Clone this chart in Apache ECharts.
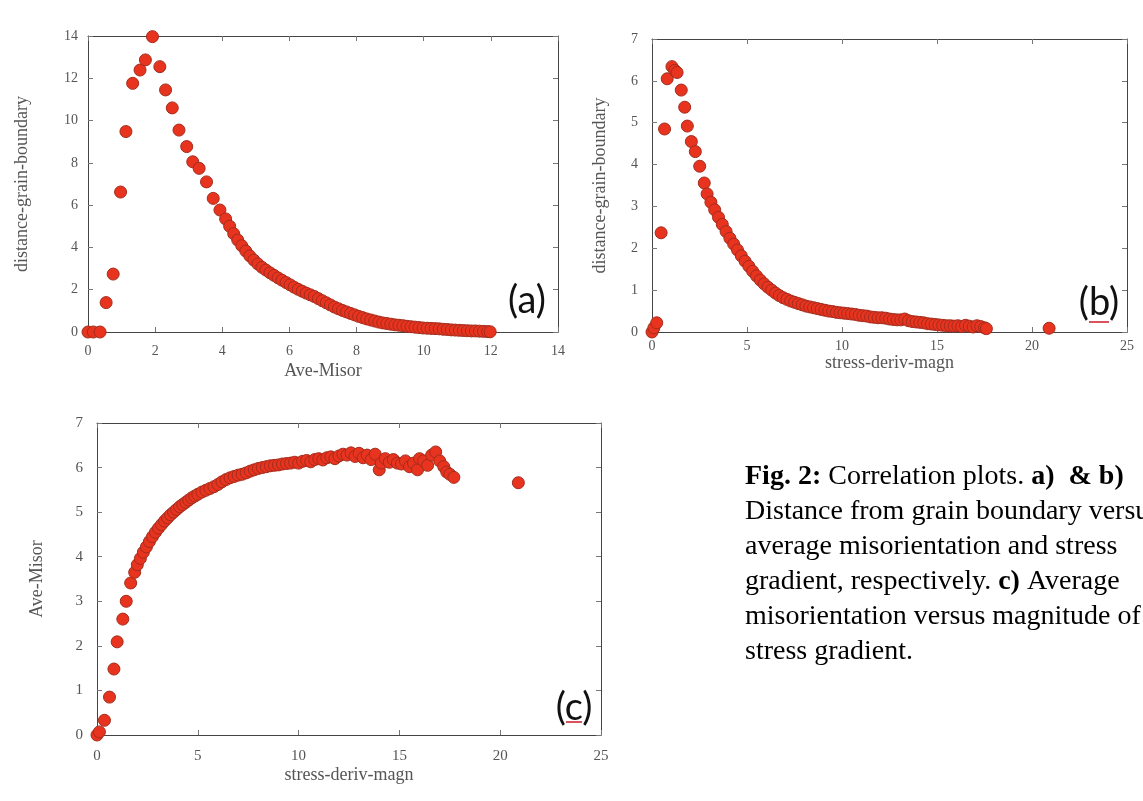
<!DOCTYPE html>
<html>
<head>
<meta charset="utf-8">
<script src="https://cdn.jsdelivr.net/npm/echarts@6/dist/echarts.min.js"></script>
<style>
  html, body { margin: 0; padding: 0; background: #fff; }
  #chart { width: 1143px; height: 801px; }
</style>
</head>
<body>
<div id="chart"></div>
<script>
// (a) distance-grain-boundary vs Ave-Misor
const misorA = [0, 0.16, 0.36, 0.54, 0.75, 0.97, 1.13, 1.33, 1.55, 1.71, 1.92, 2.14, 2.31, 2.51, 2.71, 2.94, 3.12, 3.31, 3.53, 3.73, 3.93, 4.10,
  4.22, 4.34, 4.46, 4.58, 4.70, 4.82, 4.94, 5.06, 5.18, 5.30, 5.42, 5.54, 5.66, 5.78, 5.90, 6.02, 6.14, 6.26, 6.38, 6.50, 6.62, 6.74, 6.86, 6.98,
  7.10, 7.22, 7.34, 7.46, 7.58, 7.70, 7.82, 7.94, 8.06, 8.18, 8.30, 8.42, 8.54, 8.66, 8.78, 8.90, 9.02, 9.14, 9.26, 9.38, 9.50, 9.62, 9.74, 9.86,
  9.98, 10.10, 10.22, 10.34, 10.46, 10.58, 10.70, 10.82, 10.94, 11.06, 11.18, 11.30, 11.42, 11.54, 11.66, 11.78, 11.90, 11.98];
const distA = [0, 0, 0, 1.39, 2.74, 6.62, 9.48, 11.76, 12.39, 12.87, 13.97, 12.55, 11.45, 10.6, 9.55, 8.77, 8.05, 7.74, 7.1, 6.32, 5.77, 5.35,
  5.0, 4.65, 4.35, 4.08, 3.83, 3.60, 3.40, 3.22, 3.06, 2.93, 2.80, 2.68, 2.56, 2.45, 2.34, 2.23, 2.12, 2.02, 1.93, 1.84, 1.76, 1.68, 1.58, 1.48,
  1.38, 1.28, 1.18, 1.10, 1.02, 0.95, 0.88, 0.81, 0.74, 0.68, 0.62, 0.57, 0.52, 0.47, 0.43, 0.40, 0.37, 0.34, 0.32, 0.30, 0.27, 0.25, 0.23, 0.21,
  0.19, 0.18, 0.17, 0.16, 0.15, 0.13, 0.12, 0.10, 0.09, 0.08, 0.07, 0.06, 0.05, 0.05, 0.04, 0.03, 0.02, 0.01];

// (b) distance-grain-boundary vs stress-deriv-magn
const derivB = [0, 0.1, 0.25, 0.48, 0.66, 0.8, 1.05, 1.2, 1.32, 1.54, 1.72, 1.86, 2.07, 2.28, 2.51, 2.75,
  2.9, 3.1, 3.3, 3.5, 3.7, 3.9, 4.1, 4.3, 4.5, 4.7, 4.9, 5.1, 5.3, 5.5, 5.7, 5.9, 6.1, 6.3, 6.5, 6.7, 6.9, 7.1, 7.3, 7.5, 7.7, 7.9,
  8.1, 8.3, 8.5, 8.7, 8.9, 9.1, 9.3, 9.5, 9.7, 9.9, 10.1, 10.3, 10.5, 10.7, 10.9, 11.1, 11.3, 11.5, 11.7, 11.9, 12.1, 12.3, 12.5, 12.7,
  12.9, 13.1, 13.3, 13.5, 13.7, 13.9, 14.1, 14.3, 14.5, 14.7, 14.9, 15.1, 15.3, 15.5, 15.7, 15.9, 16.1, 16.3, 16.5, 16.7, 16.9, 17.1,
  17.3, 17.5, 17.6, 20.9];
const distB = [0, 0.1, 0.22, 2.37, 4.85, 6.05, 6.34, 6.25, 6.2, 5.78, 5.37, 4.92, 4.55, 4.31, 3.96, 3.56,
  3.30, 3.10, 2.92, 2.74, 2.57, 2.40, 2.24, 2.10, 1.96, 1.82, 1.69, 1.57, 1.45, 1.34, 1.24, 1.15, 1.07, 1.00, 0.93, 0.87, 0.82, 0.78, 0.74, 0.71, 0.68, 0.65,
  0.62, 0.60, 0.58, 0.56, 0.54, 0.52, 0.50, 0.49, 0.47, 0.46, 0.45, 0.44, 0.43, 0.42, 0.40, 0.39, 0.38, 0.36, 0.35, 0.34, 0.34, 0.33, 0.31, 0.30,
  0.29, 0.29, 0.31, 0.27, 0.25, 0.24, 0.23, 0.22, 0.20, 0.19, 0.18, 0.17, 0.16, 0.15, 0.15, 0.14, 0.15, 0.13, 0.16, 0.14, 0.12, 0.15,
  0.13, 0.10, 0.08, 0.09];

// (c) Ave-Misor vs stress-deriv-magn
const derivC = [0, 0.12, 0.37, 0.62, 0.84, 1.0, 1.28, 1.45, 1.67, 1.87, 2.0, 2.15, 2.3, 2.45, 2.6, 2.75, 2.9, 3.05, 3.2, 3.35, 3.5,
  3.65, 3.8, 3.95, 4.1, 4.25, 4.4, 4.55, 4.7, 4.85, 5.0, 5.2, 5.4, 5.6, 5.8, 6.0, 6.2, 6.4, 6.6, 6.8, 7.0, 7.2, 7.4, 7.6, 7.8,
  8.0, 8.2, 8.4, 8.6, 8.8, 9.0, 9.2, 9.4, 9.6, 9.8, 10.0, 10.2, 10.4, 10.6, 10.8, 11.0, 11.2, 11.4, 11.6, 11.8, 12.0, 12.2, 12.4,
  12.6, 12.8, 13.0, 13.2, 13.4, 13.6, 13.8, 14.0, 14.1, 14.3, 14.5, 14.7, 14.9, 15.1, 15.3, 15.5, 15.7, 15.9, 16.0, 16.2, 16.4,
  16.6, 16.8, 17.0, 17.2, 17.35, 17.5, 17.7, 20.9];
const misorC = [0, 0.07, 0.33, 0.85, 1.48, 2.09, 2.6, 3.0, 3.41, 3.65, 3.82, 3.96, 4.10, 4.22, 4.34, 4.45, 4.55, 4.64, 4.72, 4.80, 4.87,
  4.94, 5.00, 5.06, 5.12, 5.17, 5.22, 5.27, 5.32, 5.36, 5.40, 5.45, 5.49, 5.53, 5.57, 5.62, 5.68, 5.73, 5.77, 5.80, 5.83, 5.85, 5.88, 5.92, 5.95,
  5.98, 6.00, 6.02, 6.04, 6.05, 6.06, 6.08, 6.09, 6.10, 6.12, 6.10, 6.14, 6.16, 6.13, 6.18, 6.20, 6.17, 6.22, 6.24, 6.20, 6.26, 6.30, 6.28,
  6.33, 6.25, 6.32, 6.22, 6.28, 6.18, 6.30, 5.95, 6.10, 6.20, 6.12, 6.18, 6.10, 6.08, 6.15, 6.02, 6.10, 5.95, 6.20, 6.15, 6.05,
  6.28, 6.35, 6.15, 6.02, 5.90, 5.85, 5.78, 5.66];

const captionLines = [
  "{b|Fig. 2:} Correlation plots. {b|a)  & b)}",
  "Distance from grain boundary versus",
  "average misorientation and stress",
  "gradient, respectively. {b|c)} Average",
  "misorientation versus magnitude of",
  "stress gradient."
];

const serif = "'Liberation Serif', 'DejaVu Serif', serif";
const frameColor = "#444";
const textGray = "#555";

const panels = [
  { grid: { left: 88, top: 36, width: 470, height: 296 }, x: misorA, y: distA,
    xMax: 14, xStep: 2, yMax: 14, yStep: 2, xName: "Ave-Misor", yName: "distance-grain-boundary",
    fs: 14, xMargin: 12, yMargin: 10, xGap: 30, yGap: 57 },
  { grid: { left: 652, top: 39, width: 475, height: 293 }, x: derivB, y: distB,
    xMax: 25, xStep: 5, yMax: 7, yStep: 1, xName: "stress-deriv-magn", yName: "distance-grain-boundary",
    fs: 14, xMargin: 7, yMargin: 14, xGap: 19, yGap: 43 },
  { grid: { left: 97, top: 423, width: 504, height: 312 }, x: derivC, y: misorC,
    xMax: 25, xStep: 5, yMax: 7, yStep: 1, xName: "stress-deriv-magn", yName: "Ave-Misor",
    fs: 15, xMargin: 14, yMargin: 14, xGap: 31, yGap: 51 }
];

const grids = [];
const xAxis = [];
const yAxis = [];
const series = [];

panels.forEach((p, i) => {
  grids.push(p.grid);
  const common = {
    gridIndex: i,
    type: "value",
    min: 0,
    splitLine: { show: false },
    axisLine: { show: true, onZero: false, lineStyle: { color: frameColor, width: 1 } },
    axisTick: { show: true, inside: true, length: 5, lineStyle: { color: "#777" } },
  };
  const label = { color: textGray, fontFamily: serif, fontSize: p.fs };
  const nameStyle = { color: textGray, fontFamily: serif, fontSize: 18 };
  xAxis.push({
    ...common, max: p.xMax, interval: p.xStep, position: "bottom",
    axisLabel: { ...label, margin: p.xMargin },
    name: p.xName, nameLocation: "middle", nameGap: p.xGap, nameTextStyle: nameStyle,
  });
  xAxis.push({ ...common, max: p.xMax, interval: p.xStep, position: "top", axisLabel: { show: false } });
  yAxis.push({
    ...common, max: p.yMax, interval: p.yStep, position: "left",
    axisLabel: { ...label, margin: p.yMargin },
    name: p.yName, nameLocation: "middle", nameGap: p.yGap, nameTextStyle: nameStyle,
  });
  yAxis.push({ ...common, max: p.yMax, interval: p.yStep, position: "right", axisLabel: { show: false } });
  series.push({
    type: "scatter",
    xAxisIndex: 2 * i,
    yAxisIndex: 2 * i,
    symbol: "circle",
    symbolSize: 12,
    itemStyle: { color: "#e8341f", borderColor: "#a32c1d", borderWidth: 1, opacity: 1 },
    data: p.x.map((v, k) => [v, p.y[k]]),
  });
});

const tagFont = "Lato, 'Open Sans', sans-serif";
const tag = (text, x, y) => ({
  type: "text", x: x, y: y,
  style: { text: text, fontFamily: tagFont, fontSize: 38, fill: "#111", align: "center", verticalAlign: "middle" },
});
const graphic = [
  tag("(a)", 527, 301),
  tag("(b)", 1099, 303),
  tag("(c)", 574, 708),
  { type: "line", shape: { x1: 1089, y1: 322, x2: 1109, y2: 322 }, style: { stroke: "#d9535f", lineWidth: 2 } },
  { type: "line", shape: { x1: 566, y1: 722, x2: 582, y2: 722 }, style: { stroke: "#d9535f", lineWidth: 2 } },
];
captionLines.forEach((line, i) => {
  graphic.push({
    type: "text",
    x: 745,
    y: 477 + i * 35,
    style: {
      text: line,
      fontFamily: serif,
      fontSize: 28,
      fill: "#000",
      verticalAlign: "middle",
      rich: {
        b: { fontFamily: serif, fontSize: 28, fontWeight: "bold", fill: "#000" },
      },
    },
  });
});

const chart = echarts.init(document.getElementById("chart"));
chart.setOption({
  animation: false,
  backgroundColor: "#fff",
  grid: grids,
  xAxis: xAxis,
  yAxis: yAxis,
  series: series,
  graphic: graphic,
});
</script>
</body>
</html>
